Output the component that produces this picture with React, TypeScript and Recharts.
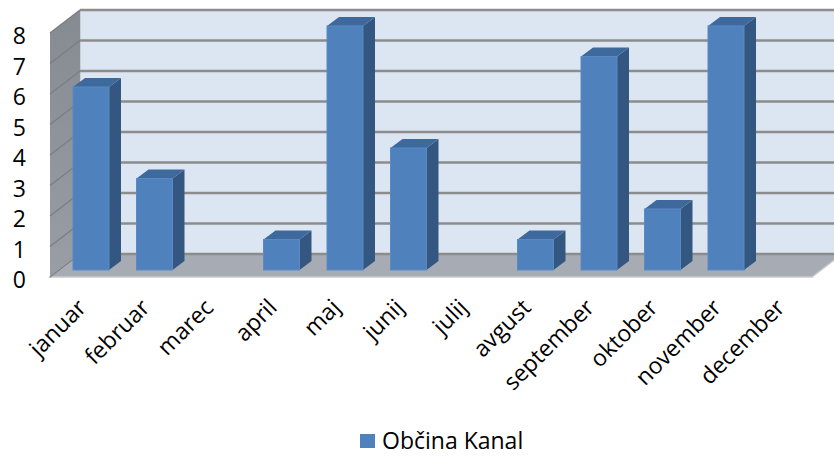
import { BarChart, Bar, XAxis, YAxis, CartesianGrid, Legend } from 'recharts';

const months = ['januar', 'februar', 'marec', 'april', 'maj', 'junij', 'julij', 'avgust', 'september', 'oktober', 'november', 'december'];
const counts = [6, 3, 0, 1, 8, 4, 0, 1, 7, 2, 8, 0];
const yTicks = [0, 1, 2, 3, 4, 5, 6, 7, 8];
const seriesName = 'Občina Kanal';

const data = months.map((month, i) => ({ month, value: counts[i] }));

// plot frame (front plane) and 3D depth offsets
const W = 834;
const H = 457;
const PLOT_LEFT = 50;
const PLOT_RIGHT = 812;
const PLOT_TOP = 33;
const PLOT_BOTTOM = 277;
const WALL_DX = 30;
const WALL_DY = 23;
const BAR_SHIFT_X = 9;
const BAR_SHIFT_Y = 7;
const BAR_DX = 12;
const BAR_DY = 9;
const FONT = '"Open Sans", sans-serif';

const Bar3D = (props: any) => {
  const { x, y, width, height } = props;
  if (!height || height <= 0) return null;
  const fx = x + BAR_SHIFT_X;
  const fy = y - BAR_SHIFT_Y;
  const r = fx + width;
  return (
    <g>
      <polygon
        points={`${r},${fy} ${r + BAR_DX},${fy - BAR_DY} ${r + BAR_DX},${fy + height - BAR_DY} ${r},${fy + height}`}
        fill="#345781"
      />
      <polygon
        points={`${fx},${fy} ${fx + BAR_DX},${fy - BAR_DY} ${r + BAR_DX},${fy - BAR_DY} ${r},${fy}`}
        fill="#3e699d"
      />
      <rect x={fx} y={fy} width={width} height={height} fill="#4f81bd" stroke="#5a8ac4" strokeWidth={1} />
    </g>
  );
};

const GridLine = (props: any) => {
  const { x1, y1, x2, y2, index } = props;
  return (
    <g key={`grid-${index}`}>
      <line x1={x1} y1={y1} x2={x1 + WALL_DX} y2={y1 - WALL_DY} stroke="#7b7f85" strokeWidth={1.5} />
      <line x1={x1 + WALL_DX} y1={y1 - WALL_DY} x2={x2 + WALL_DX} y2={y2 - WALL_DY} stroke="#8c8c8c" strokeWidth={2.5} />
    </g>
  );
};

const YTick = (props: any) => {
  const { x, y, payload } = props;
  return (
    <text x={x - 16} y={y + 2} textAnchor="end" dominantBaseline="central" fontSize={23} fontFamily={FONT} fill="#000">
      {payload.value}
    </text>
  );
};

const XTick = (props: any) => {
  const { x, y, payload } = props;
  return (
    <g transform={`translate(${x + 6},${y + 24})`}>
      <text textAnchor="end" transform="rotate(-45)" fontSize={23} fontFamily={FONT} fill="#000">
        {payload.value}
      </text>
    </g>
  );
};

const LegendContent = () => (
  <div style={{ display: 'flex', alignItems: 'center', fontFamily: FONT, fontSize: 23, lineHeight: '23px', color: '#000', height: 23 }}>
    <span style={{ display: 'inline-block', width: 15, height: 14, background: '#4f81bd', marginRight: 7 }} />
    <span>{seriesName}</span>
  </div>
);

function Walls() {
  const bx = PLOT_LEFT + WALL_DX;
  const by = PLOT_TOP - WALL_DY;
  const bb = PLOT_BOTTOM - WALL_DY;
  const br = PLOT_RIGHT + WALL_DX;
  return (
    <svg width={W} height={H} style={{ position: 'absolute', left: 0, top: 0 }}>
      <defs>
        <linearGradient id="leftWall" x1="0" y1="0" x2="0" y2="1">
          <stop offset="0%" stopColor="#868a91" />
          <stop offset="100%" stopColor="#999da4" />
        </linearGradient>
      </defs>
      <rect x={bx} y={by} width={br - bx} height={bb - by} fill="#dce6f2" stroke="#b5b5b5" strokeWidth={1} />
      <polygon
        points={`${PLOT_LEFT},${PLOT_TOP} ${bx},${by} ${bx},${bb} ${PLOT_LEFT},${PLOT_BOTTOM}`}
        fill="url(#leftWall)"
      />
      <polygon
        points={`${PLOT_LEFT},${PLOT_BOTTOM} ${bx},${bb} ${br},${bb} ${PLOT_RIGHT},${PLOT_BOTTOM}`}
        fill="#a7acb4"
        stroke="#c9c9c9"
        strokeWidth={1.5}
      />
    </svg>
  );
}

export default function App() {
  return (
    <div style={{ position: 'absolute', left: 0, top: 0, width: W, height: H, background: '#fff' }}>
      <Walls />
      <div style={{ position: 'absolute', left: 0, top: 0 }}>
        <BarChart
          width={W}
          height={H}
          data={data}
          margin={{ top: PLOT_TOP, right: W - PLOT_RIGHT, left: PLOT_LEFT - 40, bottom: H - PLOT_BOTTOM - 100 - 23 }}
        >
          <CartesianGrid vertical={false} horizontal={GridLine} />
          <XAxis dataKey="month" height={100} tick={<XTick />} tickLine={false} axisLine={false} interval={0} />
          <YAxis width={40} domain={[0, 8]} ticks={yTicks} tick={<YTick />} tickLine={false} axisLine={false} />
          <Legend
            verticalAlign="bottom"
            content={<LegendContent />}
            wrapperStyle={{ top: 429, left: 360, bottom: 'auto', width: 220, height: 23 }}
          />
          <Bar dataKey="value" name={seriesName} barSize={36} shape={<Bar3D />} isAnimationActive={false} />
        </BarChart>
      </div>
    </div>
  );
}
